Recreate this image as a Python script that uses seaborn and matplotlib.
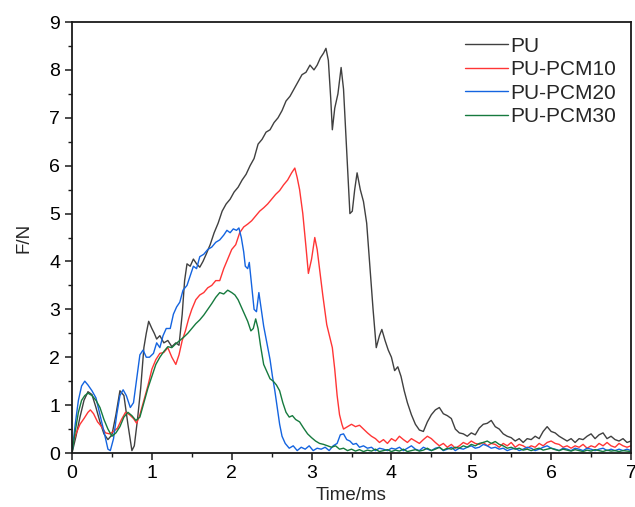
import numpy as np
import pandas as pd
import matplotlib
matplotlib.use("Agg")
import matplotlib.pyplot as plt
import seaborn as sns
from matplotlib.ticker import MultipleLocator

series_names = ["PU", "PU-PCM10", "PU-PCM20", "PU-PCM30"]
series_colors = ["#404040", "#ff3535", "#1464e0", "#167a3e"]

pu_t = [0, 0.05, 0.1, 0.15, 0.2, 0.25, 0.3, 0.35, 0.4, 0.45, 0.5, 0.55, 0.6, 0.65, 0.7, 0.75, 0.78,
        0.82, 0.86, 0.9, 0.93, 0.96, 1.0, 1.03, 1.06, 1.1, 1.15, 1.2, 1.25, 1.3, 1.34, 1.38, 1.41,
        1.44, 1.48, 1.52, 1.56, 1.6, 1.64, 1.68, 1.73, 1.78, 1.83, 1.88, 1.93, 1.98, 2.03, 2.08,
        2.13, 2.18, 2.23, 2.28, 2.33, 2.38, 2.43, 2.48, 2.53, 2.58, 2.63, 2.68, 2.73, 2.78, 2.83,
        2.88, 2.93, 2.98, 3.03, 3.07, 3.11, 3.15, 3.18, 3.21, 3.24, 3.26, 3.29, 3.33, 3.37, 3.40,
        3.44, 3.48, 3.51, 3.54, 3.57, 3.61, 3.65, 3.69, 3.73, 3.77, 3.81, 3.85, 3.88, 3.92, 3.96,
        4.0, 4.04, 4.08, 4.12, 4.16, 4.2, 4.25, 4.3, 4.35, 4.4, 4.45, 4.5, 4.55, 4.6, 4.65, 4.7,
        4.75, 4.8, 4.85, 4.9, 4.95, 5.0, 5.05, 5.1, 5.15, 5.2, 5.25, 5.3, 5.35, 5.4, 5.45, 5.5,
        5.55, 5.6, 5.65, 5.7, 5.75, 5.8, 5.85, 5.9, 5.95, 6.0, 6.05, 6.1, 6.15, 6.2, 6.25, 6.3,
        6.35, 6.4, 6.45, 6.5, 6.55, 6.6, 6.65, 6.7, 6.75, 6.8, 6.85, 6.9, 6.95, 7.0]
pu_f = [0.0, 0.35, 0.75, 1.1, 1.28, 1.22, 0.95, 0.65, 0.4, 0.28, 0.38, 0.8, 1.3, 1.2, 0.6, 0.05, 0.15,
        0.7, 1.35, 2.2, 2.5, 2.75, 2.6, 2.5, 2.38, 2.45, 2.3, 2.35, 2.22, 2.3, 2.25, 2.9, 3.6,
        3.95, 3.9, 4.05, 3.95, 3.88, 4.0, 4.15, 4.35, 4.6, 4.8, 5.05, 5.2, 5.3, 5.45, 5.55,
        5.7, 5.82, 6.0, 6.15, 6.45, 6.55, 6.7, 6.75, 6.9, 7.0, 7.15, 7.35, 7.45, 7.6, 7.75,
        7.9, 7.95, 8.1, 8.0, 8.1, 8.25, 8.35, 8.45, 8.2, 7.4, 6.75, 7.2, 7.5, 8.05, 7.6,
        6.3, 5.0, 5.05, 5.5, 5.85, 5.5, 5.25, 4.8, 3.9, 3.0, 2.2, 2.45, 2.58, 2.35, 2.15,
        2.0, 1.72, 1.8, 1.6, 1.3, 1.05, 0.8, 0.6, 0.48, 0.45, 0.65, 0.8, 0.9, 0.95, 0.82, 0.78,
        0.72, 0.5, 0.42, 0.4, 0.35, 0.42, 0.38, 0.52, 0.6, 0.62, 0.68, 0.55, 0.5, 0.4, 0.35, 0.32,
        0.25, 0.3, 0.22, 0.3, 0.28, 0.35, 0.3, 0.45, 0.55, 0.45, 0.42, 0.35, 0.3, 0.25, 0.3, 0.22,
        0.3, 0.28, 0.35, 0.4, 0.3, 0.38, 0.42, 0.3, 0.35, 0.28, 0.25, 0.3, 0.22, 0.25]

pcm10_t = [0, 0.05, 0.1, 0.15, 0.2, 0.23, 0.27, 0.32, 0.37, 0.42, 0.47, 0.52, 0.57, 0.62, 0.67, 0.72,
           0.77, 0.81, 0.85, 0.9, 0.95, 1.0, 1.05, 1.1, 1.15, 1.2, 1.25, 1.3, 1.34, 1.38, 1.42, 1.46,
           1.5, 1.55, 1.6, 1.65, 1.7, 1.75, 1.8, 1.85, 1.9, 1.95, 2.0, 2.05, 2.1, 2.15, 2.2, 2.25,
           2.3, 2.35, 2.4, 2.45, 2.5, 2.55, 2.6, 2.65, 2.7, 2.75, 2.79, 2.82, 2.85, 2.89, 2.93, 2.96,
           3.0, 3.04, 3.07, 3.1, 3.14, 3.19, 3.23, 3.26, 3.29, 3.32, 3.35, 3.38, 3.4, 3.45, 3.5, 3.55,
           3.6, 3.65, 3.7, 3.75, 3.8, 3.85, 3.9, 3.95, 4.0, 4.05, 4.1, 4.15, 4.2, 4.25, 4.3, 4.35,
           4.4, 4.45, 4.5, 4.55, 4.6, 4.65, 4.7, 4.75, 4.8, 4.85, 4.9, 4.95, 5.0, 5.05, 5.1, 5.15,
           5.2, 5.25, 5.3, 5.35, 5.4, 5.45, 5.5, 5.55, 5.6, 5.65, 5.7, 5.75, 5.8, 5.85, 5.9, 5.95,
           6.0, 6.05, 6.1, 6.15, 6.2, 6.25, 6.3, 6.35, 6.4, 6.45, 6.5, 6.55, 6.6, 6.65, 6.7, 6.75,
           6.8, 6.85, 6.9, 6.95, 7.0]
pcm10_f = [0.15, 0.4, 0.6, 0.72, 0.85, 0.9, 0.82, 0.65, 0.55, 0.42, 0.4, 0.45, 0.52, 0.7, 0.85, 0.8,
           0.72, 0.62, 0.8, 1.1, 1.4, 1.75, 1.95, 2.08, 2.1, 2.2, 2.0, 1.85, 2.05, 2.35, 2.55, 2.8,
           3.0, 3.2, 3.3, 3.35, 3.45, 3.5, 3.6, 3.6, 3.85, 4.05, 4.25, 4.35, 4.6, 4.72, 4.78, 4.85,
           4.95, 5.05, 5.12, 5.2, 5.3, 5.4, 5.48, 5.6, 5.7, 5.85, 5.95, 5.75, 5.5, 5.0, 4.3, 3.75,
           4.05, 4.5, 4.25, 3.85, 3.3, 2.68, 2.4, 2.2, 1.75, 1.2, 0.8, 0.6, 0.5, 0.55, 0.6, 0.55,
           0.58, 0.5, 0.42, 0.35, 0.3, 0.22, 0.28, 0.2, 0.3, 0.25, 0.35, 0.28, 0.22, 0.3, 0.25, 0.2,
           0.28, 0.35, 0.3, 0.22, 0.15, 0.2, 0.12, 0.18, 0.1, 0.15, 0.22, 0.18, 0.25, 0.2, 0.18, 0.22,
           0.15, 0.2, 0.18, 0.12, 0.2, 0.15, 0.22, 0.12, 0.18, 0.15, 0.1, 0.15, 0.12, 0.2, 0.15, 0.22,
           0.25, 0.2, 0.18, 0.12, 0.15, 0.1, 0.15, 0.12, 0.18, 0.1, 0.15, 0.12, 0.2, 0.15, 0.22, 0.15,
           0.12, 0.2, 0.15, 0.12, 0.15]

pcm20_t = [0, 0.04, 0.08, 0.12, 0.16, 0.2, 0.25, 0.3, 0.35, 0.4, 0.45, 0.48, 0.52, 0.56, 0.6, 0.64,
           0.68, 0.73, 0.77, 0.81, 0.85, 0.89, 0.93, 0.97, 1.02, 1.06, 1.1, 1.14, 1.18, 1.23, 1.27,
           1.31, 1.35, 1.39, 1.44, 1.48, 1.52, 1.56, 1.6, 1.65, 1.7, 1.75, 1.8, 1.85, 1.9, 1.94, 1.98,
           2.02, 2.06, 2.09, 2.12, 2.15, 2.17, 2.2, 2.22, 2.25, 2.28, 2.31, 2.34, 2.37, 2.4, 2.44,
           2.48, 2.51, 2.54, 2.57, 2.6, 2.63, 2.67, 2.72, 2.77, 2.82, 2.87, 2.92, 2.97, 3.02, 3.07,
           3.12, 3.17, 3.22, 3.27, 3.32, 3.36, 3.4, 3.44, 3.48, 3.52, 3.56, 3.6, 3.65, 3.7, 3.75,
           3.8, 3.85, 3.9, 3.95, 4.0, 4.05, 4.1, 4.15, 4.2, 4.25, 4.3, 4.35, 4.4, 4.45, 4.5, 4.55,
           4.6, 4.65, 4.7, 4.75, 4.8, 4.85, 4.9, 4.95, 5.0, 5.05, 5.1, 5.15, 5.2, 5.25, 5.3, 5.35,
           5.4, 5.45, 5.5, 5.55, 5.6, 5.65, 5.7, 5.75, 5.8, 5.85, 5.9, 5.95, 6.0, 6.05, 6.1, 6.15,
           6.2, 6.25, 6.3, 6.35, 6.4, 6.45, 6.5, 6.55, 6.6, 6.65, 6.7, 6.75, 6.8, 6.85, 6.9, 6.95, 7.0]
pcm20_f = [0.0, 0.6, 1.1, 1.4, 1.5, 1.42, 1.3, 1.15, 0.8, 0.45, 0.08, 0.05, 0.3, 0.8, 1.2, 1.32,
           1.2, 0.95, 1.05, 1.55, 2.05, 2.15, 2.0, 2.0, 2.08, 2.3, 2.2, 2.45, 2.6, 2.6, 2.9,
           3.05, 3.15, 3.4, 3.5, 3.7, 3.9, 3.85, 4.1, 4.15, 4.25, 4.3, 4.4, 4.45, 4.55, 4.65, 4.6,
           4.68, 4.65, 4.7, 4.5, 4.2, 3.9, 3.85, 3.98, 3.5, 3.0, 2.95, 3.35, 3.0, 2.65, 2.3,
           1.95, 1.6, 1.3, 0.95, 0.6, 0.35, 0.2, 0.1, 0.15, 0.05, 0.12, 0.08, 0.15, 0.05, 0.1,
           0.08, 0.12, 0.05, 0.15, 0.2, 0.38, 0.4, 0.28, 0.25, 0.18, 0.2, 0.12, 0.15, 0.1, 0.12,
           0.05, 0.1, 0.08, 0.05, 0.1, 0.08, 0.12, 0.05, 0.1, 0.15, 0.08, 0.05, 0.12, 0.08, 0.05, 0.1,
           0.12, 0.05, 0.08, 0.12, 0.05, 0.1, 0.08, 0.12, 0.15, 0.1, 0.12, 0.18, 0.15, 0.1, 0.12, 0.08,
           0.1, 0.05, 0.08, 0.1, 0.05, 0.08, 0.12, 0.1, 0.05, 0.08, 0.12, 0.15, 0.1, 0.08, 0.05, 0.1,
           0.08, 0.05, 0.1, 0.08, 0.05, 0.1, 0.08, 0.05, 0.08, 0.1, 0.05, 0.08, 0.05, 0.08, 0.05, 0.08, 0.05]

pcm30_t = [0, 0.04, 0.08, 0.12, 0.16, 0.2, 0.25, 0.3, 0.35, 0.4, 0.45, 0.5, 0.55, 0.6, 0.65, 0.7,
           0.75, 0.8, 0.85, 0.9, 0.95, 1.0, 1.05, 1.1, 1.15, 1.2, 1.25, 1.3, 1.35, 1.4, 1.45, 1.5,
           1.55, 1.6, 1.65, 1.7, 1.75, 1.8, 1.85, 1.9, 1.95, 2.0, 2.04, 2.08, 2.12, 2.16, 2.2, 2.24,
           2.27, 2.3, 2.33, 2.36, 2.4, 2.44, 2.48, 2.52, 2.56, 2.6, 2.64, 2.68, 2.72, 2.76, 2.8,
           2.85, 2.9, 2.95, 3.0, 3.05, 3.1, 3.15, 3.2, 3.25, 3.3, 3.35, 3.4, 3.45, 3.5, 3.55, 3.6,
           3.65, 3.7, 3.75, 3.8, 3.85, 3.9, 3.95, 4.0, 4.05, 4.1, 4.15, 4.2, 4.25, 4.3, 4.35, 4.4,
           4.45, 4.5, 4.55, 4.6, 4.65, 4.7, 4.75, 4.8, 4.85, 4.9, 4.95, 5.0, 5.05, 5.1, 5.15, 5.2,
           5.25, 5.3, 5.35, 5.4, 5.45, 5.5, 5.55, 5.6, 5.65, 5.7, 5.75, 5.8, 5.85, 5.9, 5.95, 6.0,
           6.05, 6.1, 6.15, 6.2, 6.25, 6.3, 6.35, 6.4, 6.45, 6.5, 6.55, 6.6, 6.65, 6.7, 6.75, 6.8,
           6.85, 6.9, 6.95, 7.0]
pcm30_f = [0.0, 0.45, 0.85, 1.1, 1.2, 1.25, 1.2, 1.1, 0.95, 0.7, 0.5, 0.35, 0.42, 0.55, 0.75, 0.85,
           0.78, 0.68, 0.75, 1.05, 1.35, 1.6, 1.85, 2.0, 2.12, 2.22, 2.2, 2.28, 2.35, 2.42, 2.5, 2.6,
           2.7, 2.78, 2.88, 3.0, 3.12, 3.25, 3.35, 3.32, 3.4, 3.35, 3.3, 3.2, 3.05, 2.9, 2.75, 2.55,
           2.6, 2.8, 2.6, 2.25, 1.85, 1.7, 1.55, 1.5, 1.42, 1.3, 1.05, 0.85, 0.75, 0.78, 0.7,
           0.65, 0.52, 0.4, 0.32, 0.25, 0.2, 0.18, 0.15, 0.12, 0.15, 0.08, 0.1, 0.05, 0.08, 0.04, 0.07,
           0.03, 0.06, 0.04, 0.08, 0.03, 0.05, 0.07, 0.03, 0.06, 0.04, 0.08, 0.03, 0.05, 0.07, 0.04, 0.06,
           0.1, 0.05, 0.08, 0.12, 0.06, 0.1, 0.08, 0.12, 0.1, 0.15, 0.12, 0.18, 0.15, 0.2, 0.22, 0.25,
           0.2, 0.24, 0.18, 0.15, 0.1, 0.12, 0.08, 0.1, 0.06, 0.08, 0.05, 0.08, 0.1, 0.06, 0.08, 0.1,
           0.07, 0.05, 0.08, 0.06, 0.04, 0.07, 0.05, 0.03, 0.06, 0.04, 0.07, 0.05, 0.03, 0.06, 0.04, 0.05,
           0.03, 0.05, 0.04, 0.03]

x_ticks = [0, 1, 2, 3, 4, 5, 6, 7]
y_ticks = [0, 1, 2, 3, 4, 5, 6, 7, 8, 9]

frames = []
for name, t, f in [("PU", pu_t, pu_f), ("PU-PCM10", pcm10_t, pcm10_f),
                   ("PU-PCM20", pcm20_t, pcm20_f), ("PU-PCM30", pcm30_t, pcm30_f)]:
    frames.append(pd.DataFrame({"t": t, "F": f, "series": name}))
df = pd.concat(frames, ignore_index=True)

sns.set_style("ticks")
plt.rcParams["font.family"] = ["Liberation Sans", "DejaVu Sans"]

fig = plt.figure(figsize=(6.35, 5.07), dpi=100)
ax = fig.add_axes([0.1134, 0.1065, 0.8803, 0.8501])

sns.lineplot(data=df, x="t", y="F", hue="series", hue_order=series_names,
             palette=dict(zip(series_names, series_colors)), estimator=None,
             sort=False, linewidth=1.0, ax=ax)

ax.set_xlim(0, 7)
ax.set_ylim(0, 9)
ax.set_xticks(x_ticks)
ax.set_yticks(y_ticks)
ax.set_xticklabels([str(v) for v in x_ticks])
ax.set_yticklabels([str(v) for v in y_ticks])
ax.xaxis.set_minor_locator(MultipleLocator(0.5))
ax.yaxis.set_minor_locator(MultipleLocator(0.5))
ax.tick_params(axis="both", which="major", direction="out", length=5, width=1.1,
               labelsize=14, color="#1a1a1a", labelcolor="black", pad=3.5)
ax.tick_params(axis="both", which="minor", direction="out", length=3, width=1.0, color="#1a1a1a")
ax.tick_params(top=False, right=False, which="both")
for s in ax.spines.values():
    s.set_visible(True)
    s.set_linewidth(1.3)
    s.set_color("#1a1a1a")

ax.set_xlabel("Time/ms", fontsize=13.5, labelpad=4)
ax.set_ylabel("F/N", fontsize=13.5, labelpad=12)

handles, labels = ax.get_legend_handles_labels()
ax.legend(handles, labels, loc="upper left", bbox_to_anchor=(0.696, 0.976),
          frameon=False, fontsize=15, handlelength=2.05, handletextpad=0.1,
          labelspacing=0.22, borderpad=0.2, borderaxespad=0.0)

fig.savefig("out.png", dpi=100)
